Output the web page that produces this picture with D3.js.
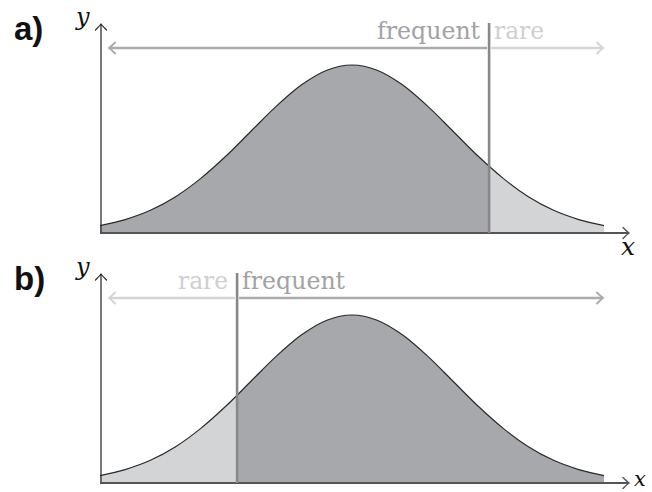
<!DOCTYPE html>
<html><head><meta charset="utf-8">
<script src="https://cdn.jsdelivr.net/npm/d3@7"></script>
<style>html,body{margin:0;padding:0;background:#fff;}svg{display:block;}</style>
</head><body>
<svg id="chart" width="652" height="492"></svg>
<script>
// ---- data ----
const xs = [-2.5,-2.25,-2,-1.75,-1.5,-1.25,-1,-0.75,-0.5,-0.25,0,0.25,0.5,0.75,1,1.25,1.5,1.75,2,2.25,2.5];
const ys = [0.044,0.080,0.135,0.216,0.325,0.458,0.607,0.755,0.882,0.969,1,0.969,0.882,0.755,0.607,0.458,0.325,0.216,0.135,0.080,0.044];
const panelLabels = ["a)", "b)"];
const thresholds = [1.36, -1.14];
const leftWords = ["frequent", "rare"];
const rightWords = ["rare", "frequent"];
const leftIsFrequent = [true, false];
const arrowExtent = [-2.41, 2.49];

const SERIF = "'DejaVu Serif', 'Liberation Serif', 'Noto Serif', serif";
const SANS = "'Liberation Sans', 'DejaVu Sans', Arial, sans-serif";

const svg = d3.select("#chart");
const x = d3.scaleLinear().domain([-2.5, 2.5]).range([100, 604]);
const y = d3.scaleLinear().domain([0, 1]).range([233, 65]);
const pts = xs.map((v, i) => [v, ys[i]]);

const darkFill = "#a7a8ab", lightFill = "#d3d4d6";
const freqArrow = "#acacae", rareArrow = "#d5d5d7";
const freqText = "#a2a2a4", rareText = "#cfcfd1";

const defs = svg.append("defs");
function marker(id, color, w) {
  defs.append("marker").attr("id", id)
    .attr("viewBox", "-10 -10 20 20").attr("markerWidth", 20).attr("markerHeight", 20)
    .attr("markerUnits", "userSpaceOnUse").attr("refX", 0).attr("refY", 0).attr("orient", "auto")
    .append("path").attr("d", "M-6,-5.5 Q-1.5,-1 0,0 Q-1.5,1 -6,5.5")
    .attr("fill", "none").attr("stroke", color).attr("stroke-width", w).attr("stroke-linecap", "round");
}
marker("axK", "#222", 1.2);
marker("axG", "#555", 1.4);
marker("arF", freqArrow, 2);
marker("arR", rareArrow, 2);

const area = d3.area().x(d => x(d[0])).y0(y(0)).y1(d => y(d[1])).curve(d3.curveMonotoneX);
const line = d3.line().x(d => x(d[0])).y(d => y(d[1])).curve(d3.curveMonotoneX);

panelLabels.forEach((lab, p) => {
  const g = svg.append("g").attr("transform", `translate(0,${p * 250})`);
  const t = thresholds[p];
  const cl = "clipL" + p, cr = "clipR" + p;
  defs.append("clipPath").attr("id", cl).append("rect")
    .attr("x", 0).attr("y", 0).attr("width", x(t)).attr("height", 250);
  defs.append("clipPath").attr("id", cr).append("rect")
    .attr("x", x(t)).attr("y", 0).attr("width", 652 - x(t)).attr("height", 250);
  const leftFill = leftIsFrequent[p] ? darkFill : lightFill;
  const rightFill = leftIsFrequent[p] ? lightFill : darkFill;
  g.append("path").datum(pts).attr("d", area).attr("fill", leftFill).attr("clip-path", `url(#${cl})`);
  g.append("path").datum(pts).attr("d", area).attr("fill", rightFill).attr("clip-path", `url(#${cr})`);
  g.append("path").datum(pts).attr("d", line).attr("fill", "none").attr("stroke", "#2a2a2a").attr("stroke-width", 1.2);

  // axes
  g.append("line").attr("x1", x(-2.5) + 1).attr("x2", x(-2.5) + 1).attr("y1", y(0)).attr("y2", 24)
    .attr("stroke", "#222").attr("stroke-width", 1.2).attr("marker-end", "url(#axK)");
  g.append("line").attr("x1", x(-2.5)).attr("x2", 629).attr("y1", y(0)).attr("y2", y(0))
    .attr("stroke", "#555").attr("stroke-width", 2).attr("marker-end", "url(#axG)");

  // threshold
  g.append("line").attr("x1", x(t)).attr("x2", x(t)).attr("y1", 23).attr("y2", y(0))
    .attr("stroke", "#88888a").attr("stroke-width", 2.6);

  // arrows
  const ay = 48;
  const lc = leftIsFrequent[p] ? freqArrow : rareArrow;
  const rc = leftIsFrequent[p] ? rareArrow : freqArrow;
  g.append("line").attr("x1", x(t) - 2).attr("x2", x(arrowExtent[0])).attr("y1", ay).attr("y2", ay)
    .attr("stroke", lc).attr("stroke-width", 2.4).attr("marker-end", `url(#${leftIsFrequent[p] ? "arF" : "arR"})`);
  g.append("line").attr("x1", x(t) + 2).attr("x2", x(arrowExtent[1])).attr("y1", ay).attr("y2", ay)
    .attr("stroke", rc).attr("stroke-width", 2.4).attr("marker-end", `url(#${leftIsFrequent[p] ? "arR" : "arF"})`);

  // words
  const wl = leftWords[p], wr = rightWords[p];
  const lenOf = w => w === "frequent" ? 103 : 50;
  g.append("text").attr("x", x(t) - 9).attr("y", 39).attr("text-anchor", "end")
    .style("font-family", SERIF).attr("font-size", 24)
    .attr("textLength", lenOf(wl)).attr("lengthAdjust", "spacingAndGlyphs")
    .attr("fill", wl === "frequent" ? freqText : rareText).text(wl);
  g.append("text").attr("x", x(t) + 5).attr("y", 39).attr("text-anchor", "start")
    .style("font-family", SERIF).attr("font-size", 24)
    .attr("textLength", lenOf(wr)).attr("lengthAdjust", "spacingAndGlyphs")
    .attr("fill", wr === "frequent" ? freqText : rareText).text(wr);

  // labels
  g.append("text").attr("x", 14).attr("y", 40).style("font-family", SANS)
    .attr("font-weight", "bold").attr("font-size", 33).attr("fill", "#111").text(lab);
  g.append("text").attr("x", 76).attr("y", 25).style("font-family", SERIF)
    .attr("font-style", "italic").attr("font-size", 24).attr("fill", "#111").text("y");
});
// x labels
svg.append("text").attr("x", 621).attr("y", 255).style("font-family", SERIF)
  .attr("font-style", "italic").attr("font-size", 25).attr("fill", "#111").text("x");
svg.append("text").attr("x", 634).attr("y", 486).style("font-family", SERIF)
  .attr("font-style", "italic").attr("font-size", 21).attr("fill", "#111").text("x");
</script>
</body></html>
